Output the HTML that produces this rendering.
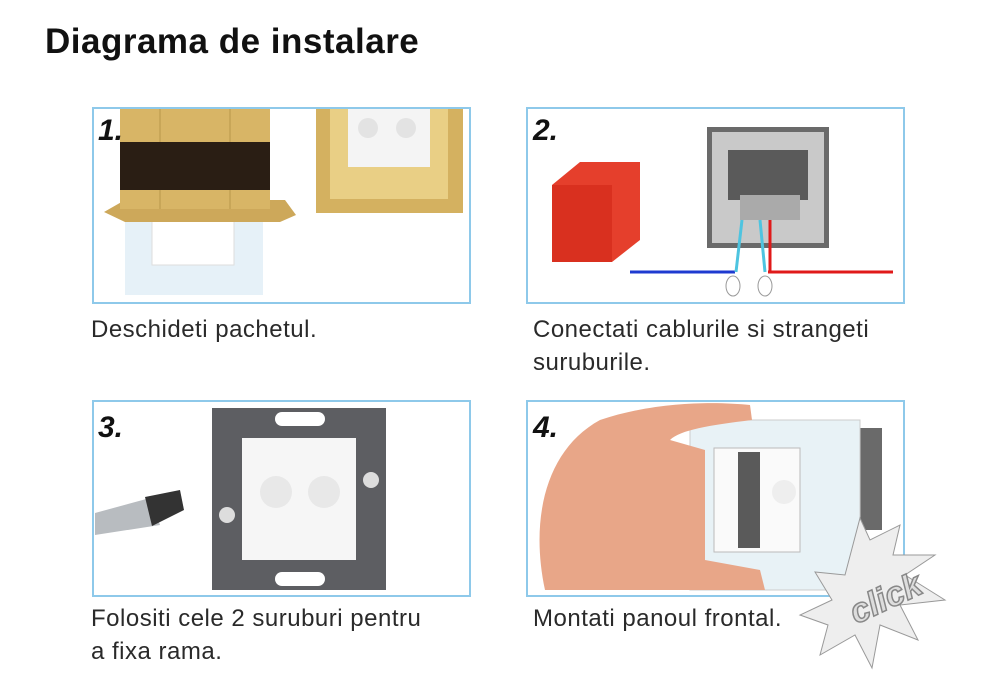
<!DOCTYPE html>
<html><head><meta charset="utf-8"><style>
html,body{margin:0;padding:0;background:#fff;}
body{width:1000px;height:698px;position:relative;overflow:hidden;font-family:"Liberation Sans",sans-serif;}
.t{position:absolute;color:#2a2a2a;font-size:24px;line-height:33px;font-weight:normal;letter-spacing:0.5px;}
h1{position:absolute;left:45px;top:22px;margin:0;font-size:35px;font-weight:bold;color:#111;letter-spacing:0.5px;}
</style></head><body>
<h1>Diagrama de instalare</h1>
<svg width="1000" height="698" style="position:absolute;left:0;top:0">
<!-- panel 1 -->
<rect x="93" y="108" width="377" height="195" fill="#fff" stroke="#8ec9ea" stroke-width="2"/>
<rect x="125" y="205" width="138" height="90" fill="#e6f1f8"/>
<rect x="152" y="220" width="82" height="45" fill="#fff" stroke="#ddd"/>
<polygon points="104,212 125,200 285,200 296,215 280,222 125,222" fill="#cda85a"/>
<rect x="120" y="109" width="150" height="100" fill="#d8b566"/>
<line x1="160" y1="109" x2="160" y2="209" stroke="#b8964a"/>
<line x1="230" y1="109" x2="230" y2="209" stroke="#b8964a"/>
<rect x="120" y="142" width="150" height="48" fill="#2a1e14"/>
<text x="98" y="140" font-size="30" font-weight="bold" font-style="italic" fill="#111">1.</text>
<rect x="316" y="109" width="147" height="104" fill="#d4b160"/>
<rect x="330" y="109" width="118" height="90" fill="#e9cf85"/>
<rect x="348" y="109" width="82" height="58" fill="#f4f4f4"/>
<circle cx="368" cy="128" r="10" fill="#e3e3e3"/><circle cx="406" cy="128" r="10" fill="#e3e3e3"/>
<!-- panel 2 -->
<rect x="527" y="108" width="377" height="195" fill="#fff" stroke="#8ec9ea" stroke-width="2"/>
<text x="533" y="140" font-size="30" font-weight="bold" font-style="italic" fill="#111">2.</text>
<polygon points="552,185 580,162 640,162 640,240 612,262 552,262" fill="#e53f2c"/>
<rect x="552" y="185" width="60" height="77" fill="#d9301f"/>
<rect x="707" y="127" width="122" height="121" fill="#6a6a6a"/>
<rect x="712" y="132" width="112" height="111" fill="#c9c9c9"/>
<rect x="728" y="150" width="80" height="50" fill="#5a5a5a"/>
<rect x="740" y="195" width="60" height="25" fill="#aaa"/>
<line x1="630" y1="272" x2="735" y2="272" stroke="#1e3ad0" stroke-width="3"/>
<line x1="768" y1="272" x2="893" y2="272" stroke="#e01a1a" stroke-width="3"/>
<line x1="742" y1="220" x2="736" y2="272" stroke="#4ec4e0" stroke-width="3"/>
<line x1="760" y1="220" x2="765" y2="272" stroke="#4ec4e0" stroke-width="3"/>
<line x1="770" y1="220" x2="770" y2="272" stroke="#e01a1a" stroke-width="3"/>
<ellipse cx="733" cy="286" rx="7" ry="10" fill="#fff" stroke="#999"/>
<ellipse cx="765" cy="286" rx="7" ry="10" fill="#fff" stroke="#999"/>
<!-- panel 3 -->
<rect x="93" y="401" width="377" height="195" fill="#fff" stroke="#8ec9ea" stroke-width="2"/>
<text x="98" y="437" font-size="30" font-weight="bold" font-style="italic" fill="#111">3.</text>
<polygon points="95,513 150,498 160,525 95,535" fill="#b8bcc0"/>
<polygon points="145,497 180,490 184,510 152,526" fill="#333"/>
<rect x="212" y="408" width="174" height="182" fill="#5d5e62"/>
<rect x="242" y="438" width="114" height="122" fill="#f6f6f6"/>
<circle cx="276" cy="492" r="16" fill="#e8e8e8"/><circle cx="324" cy="492" r="16" fill="#e8e8e8"/>
<rect x="275" y="412" width="50" height="14" rx="7" fill="#fff"/>
<rect x="275" y="572" width="50" height="14" rx="7" fill="#fff"/>
<circle cx="227" cy="515" r="8" fill="#ddd"/><circle cx="371" cy="480" r="8" fill="#ddd"/>
<!-- panel 4 -->
<rect x="527" y="401" width="377" height="195" fill="#fff" stroke="#8ec9ea" stroke-width="2"/>
<polygon points="858,428 882,428 882,530 858,530" fill="#6a6a6a"/>
<rect x="690" y="420" width="170" height="170" fill="#e8f2f6" stroke="#ccc"/>
<path d="M545,590 C530,520 545,450 600,420 C660,400 720,402 750,405 L752,420 C710,425 680,430 670,440 L705,450 L705,560 L760,570 L765,590 Z" fill="#e8a688"/>
<rect x="714" y="448" width="86" height="104" fill="#fafafa" stroke="#bbb"/>
<rect x="738" y="452" width="22" height="96" fill="#5a5a5a"/>
<circle cx="784" cy="492" r="12" fill="#eee"/>
<text x="533" y="437" font-size="30" font-weight="bold" font-style="italic" fill="#111">4.</text>
<polygon points="860,518 870,540 900,525 893,555 935,555 905,575 945,600 900,605 918,640 880,625 872,668 855,635 820,655 828,625 800,615 832,600 815,572 845,575" fill="#eeeeee" stroke="#999"/>
<text x="848" y="612" font-size="34" font-weight="bold" font-style="italic" fill="#ddd" stroke="#888" stroke-width="1.5" transform="rotate(-25 880 600)">click</text>
</svg>
<div class="t" style="left:91px;top:313px">Deschideti pachetul.</div>
<div class="t" style="left:533px;top:313px">Conectati cablurile si strangeti<br>suruburile.</div>
<div class="t" style="left:91px;top:602px">Folositi cele 2 suruburi pentru<br>a fixa rama.</div>
<div class="t" style="left:533px;top:602px">Montati panoul frontal.</div>
</body></html>
